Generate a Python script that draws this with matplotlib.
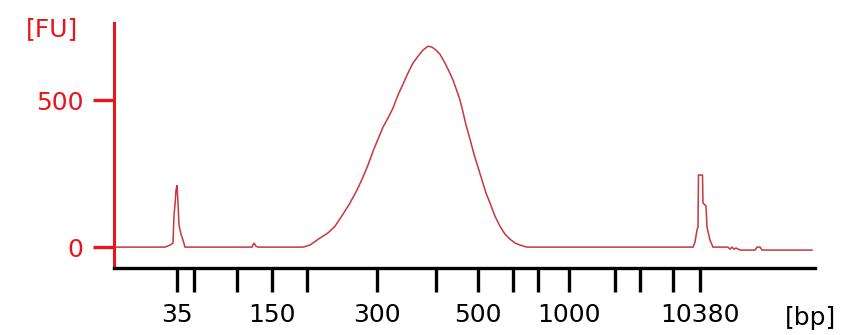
import matplotlib.pyplot as plt

# electropherogram trace: migration time [s] vs fluorescence [FU]
time_s = [
    40.0, 45.1, 45.6, 45.9, 46.0, 46.1, 46.2, 46.3, 46.4, 46.5, 46.7, 46.9, 47.1,
    53.8, 54.0, 54.2, 54.4,
    58.9, 59.6, 60.6, 61.4, 62.1, 62.9, 63.6, 64.3, 64.9, 65.4, 65.9, 66.4,
    66.9, 67.4, 67.9, 68.4, 68.9, 69.4, 69.9, 70.4, 70.9, 71.4, 71.8, 72.2,
    72.6, 73.0, 73.4, 73.9, 74.3, 74.6, 74.9, 75.2, 75.6, 76.0, 76.4, 76.8,
    77.2, 77.6, 78.1, 78.6, 79.1, 79.6, 80.1, 80.6, 81.3,
    97.9, 98.1, 98.3, 98.4, 98.45, 98.85, 98.9, 99.2, 99.3, 99.6, 99.9,
    101.4, 101.6, 101.8, 102.0, 102.2, 102.6, 104.1, 104.3, 104.6, 104.8, 109.8,
]
fu = [
    0, 0, 7, 14, 109, 143, 194, 211, 150, 75, 44, 24, 0,
    0, 14, 3, 0,
    0, 7, 31, 48, 71, 112, 150, 194, 238, 279, 326, 367,
    408, 439, 473, 517, 554, 592, 626, 649, 670, 683, 680, 670,
    656, 632, 605, 568, 530, 500, 459, 415, 367, 316, 272, 228,
    184, 150, 105, 71, 44, 27, 14, 7, 0,
    0, 17, 58, 68, 245, 245, 150, 140, 68, 24, 0,
    0, -7, 0, -7, -3, -10, -10, 0, 0, -10, -10,
]

# size standard: ladder fragment sizes and their migration times
ladder_bp = [35, 50, 100, 150, 200, 300, 400, 500, 600, 700, 1000, 2000, 3000, 7000, 10380]
ladder_time = [46.3, 48.0, 52.3, 55.8, 59.3, 66.3, 72.2, 76.4, 79.9, 82.4, 85.5, 90.1, 92.6, 95.9, 98.6]
labelled_bp = [35, 150, 300, 500, 1000, 10380]

fu_ticks = [0, 500]

RED = "#e8161c"
TRACE = "#c83640"
FONT = 18

fig = plt.figure(figsize=(8.47, 3.35), dpi=100)
ax = fig.add_axes([0.1346, 0.2, 0.8276, 0.7313])

ax.plot(time_s, fu, color=TRACE, lw=1.1, solid_joinstyle="miter")

ax.set_xlim(40.0, 110.1)
ax.set_ylim(-71, 762)

for side in ("top", "right"):
    ax.spines[side].set_visible(False)
ax.spines["left"].set_color(RED)
ax.spines["left"].set_linewidth(2.2)
ax.spines["bottom"].set_color("black")
ax.spines["bottom"].set_linewidth(2.4)

ax.set_yticks(fu_ticks)
ax.set_yticklabels([str(v) for v in fu_ticks])
ax.tick_params(axis="y", colors=RED, labelcolor=RED, length=15, width=2.4,
               pad=7, labelsize=FONT)

ax.set_xticks(ladder_time)
ax.set_xticklabels([str(b) if b in labelled_bp else "" for b in ladder_bp])
ax.tick_params(axis="x", colors="black", length=17, width=2.4, pad=8,
               labelsize=FONT)

fig.text(52 / 847, 1 - 29 / 335, "[FU]", color=RED, fontsize=FONT,
         ha="center", va="center")
fig.text(810 / 847, 1 - 318 / 335, "[bp]", color="black", fontsize=FONT,
         ha="center", va="center")

fig.savefig("out.png", dpi=100)
